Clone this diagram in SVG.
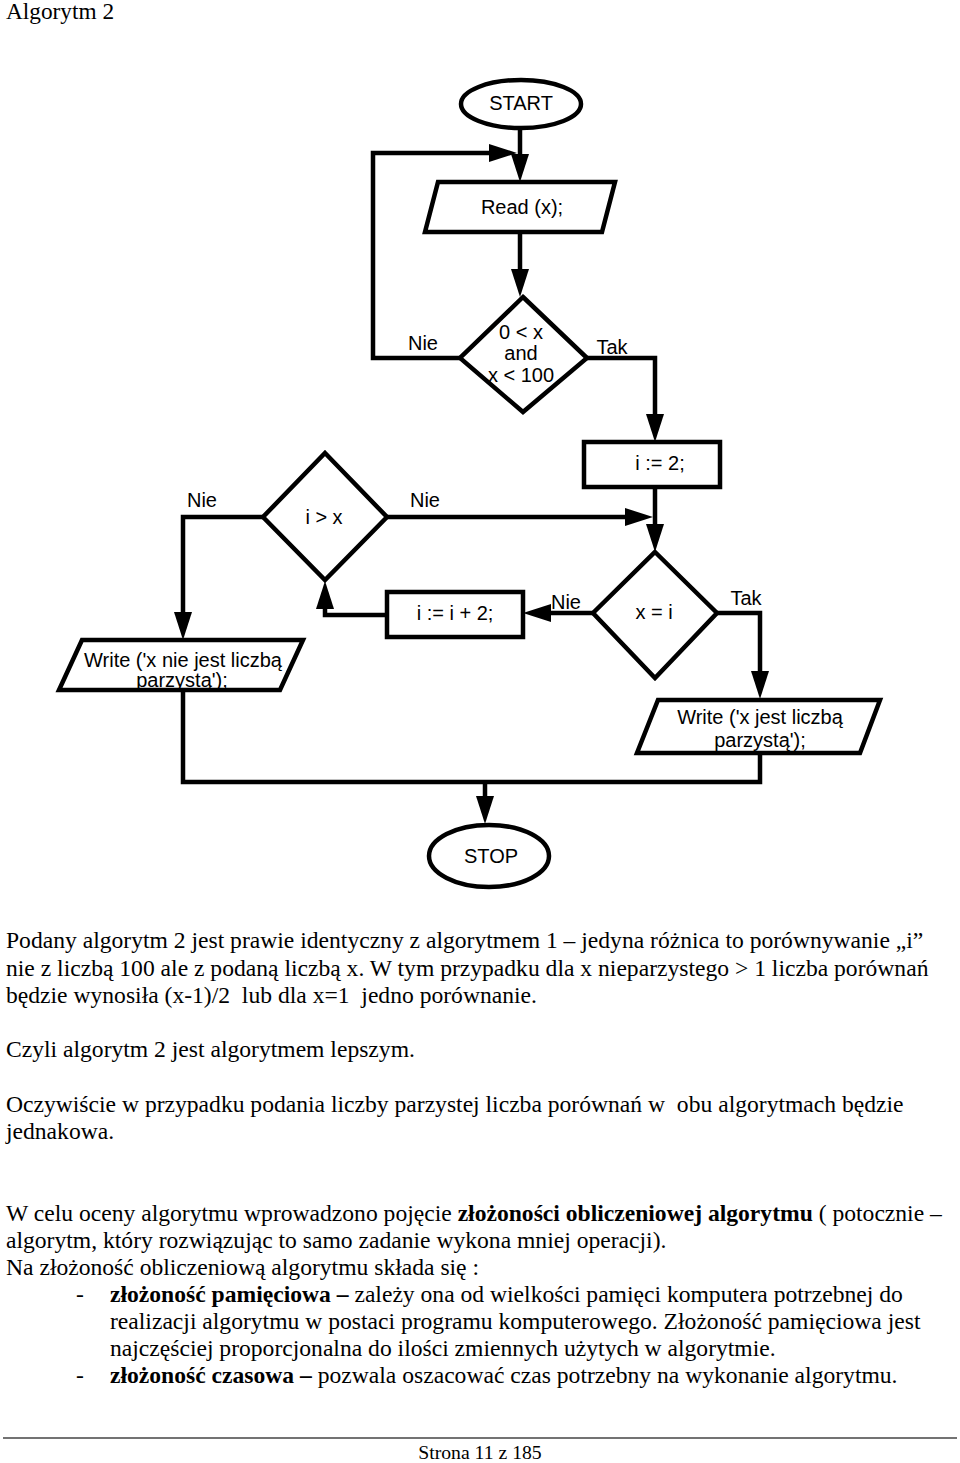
<svg xmlns="http://www.w3.org/2000/svg" width="960" height="1463" viewBox="0 0 960 1463">
<style>
.shape{fill:#fff;stroke:#000;stroke-width:4.5;stroke-linejoin:miter}
.lbl{font-family:"Liberation Sans",Arial,sans-serif;font-size:20px;fill:#000;text-anchor:middle}
.edge{fill:none;stroke:#000;stroke-width:4.5;stroke-linejoin:miter}
.body{font-family:"Liberation Serif","Times New Roman",serif;font-size:23.6px;fill:#000}
.b{font-weight:bold}
</style>
<defs>
<marker id="ah" markerUnits="userSpaceOnUse" markerWidth="28" markerHeight="18" refX="18" refY="9" orient="auto">
<path d="M0,0 L28,9 L0,18 z" fill="#000"/>
</marker>
</defs>
<rect width="960" height="1463" fill="#fff"/>
<text class="body" x="6" y="19" style="font-size:23.3px">Algorytm 2</text>

<g id="connectors">
<path class="edge" d="M520,128 L520,172" marker-end="url(#ah)"/>
<path class="edge" d="M460,358 L373,358 L373,153 L507,153" marker-end="url(#ah)"/>
<path class="edge" d="M520,232 L520,287" marker-end="url(#ah)"/>
<path class="edge" d="M587,358 L655,358 L655,432" marker-end="url(#ah)"/>
<path class="edge" d="M655,487 L655,542" marker-end="url(#ah)"/>
<path class="edge" d="M387,517 L643,517" marker-end="url(#ah)"/>
<path class="edge" d="M593,613 L533,613" marker-end="url(#ah)"/>
<path class="edge" d="M387,615 L325,615 L325,591" marker-end="url(#ah)"/>
<path class="edge" d="M263,517 L183,517 L183,630" marker-end="url(#ah)"/>
<path class="edge" d="M717,613 L760,613 L760,689" marker-end="url(#ah)"/>
<path class="edge" d="M183,690 L183,782 L760,782 L760,753"/>
<path class="edge" d="M485,782 L485,814" marker-end="url(#ah)"/>
<text class="lbl" x="423" y="350">Nie</text>
<text class="lbl" x="612" y="354">Tak</text>
<text class="lbl" x="202" y="507">Nie</text>
<text class="lbl" x="425" y="507">Nie</text>
<text class="lbl" x="566" y="609">Nie</text>
<text class="lbl" x="746" y="605">Tak</text>
</g>

<g id="start">
<ellipse class="shape" cx="521" cy="104" rx="60" ry="24"/>
<text class="lbl" x="521" y="110">START</text>
</g>
<g id="read">
<polygon class="shape" points="438,182 615,182 602,232 425,232"/>
<text class="lbl" x="522" y="214">Read (x);</text>
</g>
<g id="cond1">
<polygon class="shape" points="523,297 587,358 523,412 460,358"/>
<text class="lbl" x="521" y="339">0 &lt; x</text>
<text class="lbl" x="521" y="360">and</text>
<text class="lbl" x="521" y="382">x &lt; 100</text>
</g>
<g id="init">
<rect class="shape" x="584" y="442" width="136" height="45"/>
<text class="lbl" x="660" y="470">i := 2;</text>
</g>
<g id="cond2">
<polygon class="shape" points="325,453 387,517 325,580 263,517"/>
<text class="lbl" x="324" y="524">i &gt; x</text>
</g>
<g id="cond3">
<polygon class="shape" points="655,552 717,613 655,678 593,613"/>
<text class="lbl" x="654" y="619">x = i</text>
</g>
<g id="incr">
<rect class="shape" x="387" y="592" width="136" height="45"/>
<text class="lbl" x="455" y="620">i := i + 2;</text>
</g>
<g id="write-odd">
<polygon class="shape" points="82,640 303,640 280,690 59,690"/>
<text class="lbl" x="183" y="667">Write ('x nie jest liczbą</text>
<text class="lbl" x="182" y="687">parzystą');</text>
</g>
<g id="write-even">
<polygon class="shape" points="658,700 880,700 860,753 637,753"/>
<text class="lbl" x="760" y="724">Write ('x jest liczbą</text>
<text class="lbl" x="760" y="747">parzystą');</text>
</g>
<g id="stop">
<ellipse class="shape" cx="489" cy="856" rx="60" ry="31"/>
<text class="lbl" x="491" y="863">STOP</text>
</g>

<g id="text">
<text class="body" x="6" y="948">Podany algorytm 2 jest prawie identyczny z algorytmem 1 – jedyna różnica to porównywanie „i”</text>
<text class="body" x="6" y="976">nie z liczbą 100 ale z podaną liczbą x. W tym przypadku dla x nieparzystego &gt; 1 liczba porównań</text>
<text class="body" x="6" y="1003" xml:space="preserve">będzie wynosiła (x-1)/2  lub dla x=1  jedno porównanie.</text>
<text class="body" x="6" y="1057">Czyli algorytm 2 jest algorytmem lepszym.</text>
<text class="body" x="6" y="1112" xml:space="preserve">Oczywiście w przypadku podania liczby parzystej liczba porównań w  obu algorytmach będzie</text>
<text class="body" x="6" y="1139">jednakowa.</text>
<text class="body" x="6" y="1221">W celu oceny algorytmu wprowadzono pojęcie <tspan class="b">złożoności obliczeniowej algorytmu</tspan> ( potocznie –</text>
<text class="body" x="6" y="1248">algorytm, który rozwiązując to samo zadanie wykona mniej operacji).</text>
<text class="body" x="6" y="1275">Na złożoność obliczeniową algorytmu składa się :</text>
<text class="body" x="76" y="1302">-</text>
<text class="body" x="110" y="1302"><tspan class="b">złożoność pamięciowa –</tspan> zależy ona od wielkości pamięci komputera potrzebnej do</text>
<text class="body" x="110" y="1329">realizacji algorytmu w postaci programu komputerowego. Złożoność pamięciowa jest</text>
<text class="body" x="110" y="1356">najczęściej proporcjonalna do ilości zmiennych użytych w algorytmie.</text>
<text class="body" x="76" y="1383">-</text>
<text class="body" x="110" y="1383"><tspan class="b">złożoność czasowa –</tspan> pozwala oszacować czas potrzebny na wykonanie algorytmu.</text>
<line x1="3" y1="1438" x2="957" y2="1438" stroke="#444" stroke-width="1.5"/>
<text class="body" x="480" y="1459" text-anchor="middle" style="font-size:19.7px">Strona 11 z 185</text>
</g>
</svg>
